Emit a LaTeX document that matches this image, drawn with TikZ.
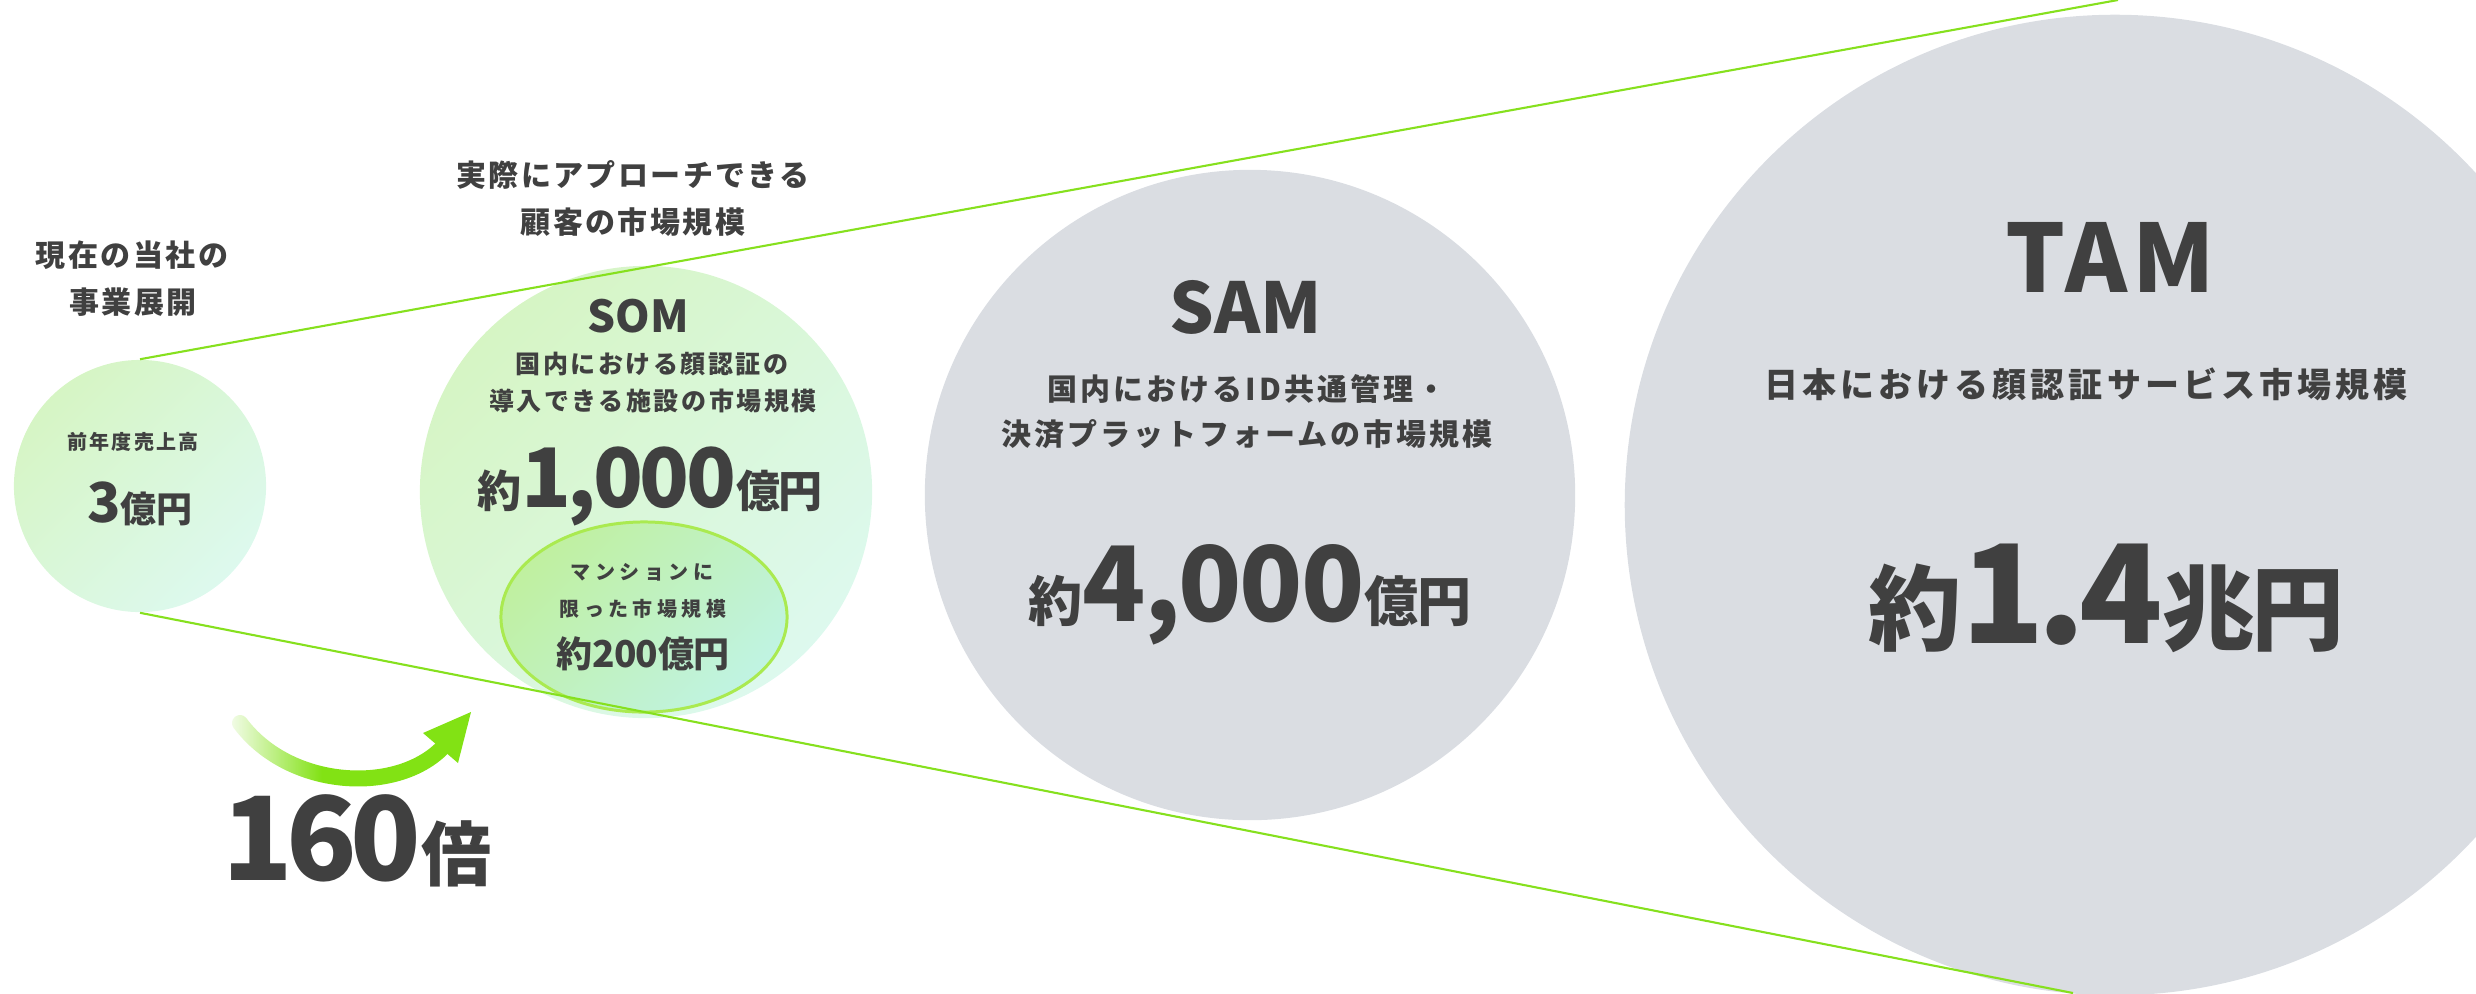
\documentclass[tikz,border=0pt]{standalone}
\usepackage{fontspec}
\setmainfont{Noto Sans CJK JP}
\usetikzlibrary{fadings,shapes.geometric}
\definecolor{tx}{RGB}{64,64,64}
\definecolor{lg}{RGB}{134,224,30}
\definecolor{ag}{RGB}{130,226,20}
\definecolor{gA}{RGB}{214,245,196}
\definecolor{gB}{RGB}{221,249,238}
\definecolor{eA}{RGB}{192,240,160}
\definecolor{eB}{RGB}{192,243,226}
\definecolor{eS}{RGB}{170,234,80}
\definecolor{gr}{RGB}{218,221,226}
\newcommand\fpx[1]{\pgfmathsetlengthmacro\tmpfs{#1*0.28453pt}\fontsize{\tmpfs}{\tmpfs}\selectfont}
\newcommand\trk[1]{\addfontfeature{LetterSpace=#1}}
\tikzfading[name=fadeR, left color=transparent!0, right color=transparent!100]
\tikzset{
  tt/.style={text=tx, inner sep=0pt, font=\bfseries},
  gcirc/.style={circle, inner sep=0pt, top color=gA, bottom color=gB, shading angle=45},
  grcirc/.style={circle, inner sep=0pt, fill=gr},
  gline/.style={draw=lg, line width=0.6pt}
}
\begin{document}
\begin{tikzpicture}[x=0.01cm,y=-0.01cm]
\useasboundingbox (0,0) rectangle (2476,993);
\clip (0,0) rectangle (2476,993);
% circles
\node[gcirc, minimum size=2.52cm] (c0) at (140,486) {};
\node[gcirc, minimum size=4.52cm] (som) at (646,492) {};
\node[ellipse, inner sep=0pt, minimum width=2.86cm, minimum height=1.9cm, draw=eS, line width=0.85pt, top color=eA, bottom color=eB, shading angle=45] (ell) at (644,617) {};
\node[grcirc, minimum size=6.5cm] (sam) at (1250,495) {};
\node[grcirc, minimum size=9.8cm] (tam) at (2115,505) {};
% cone lines
\coordinate (tE) at (2118,0);
\coordinate (bE) at (2073,993);
\draw[gline] (c0.north) -- (tE);
\draw[gline] (c0.south) -- (bE);
% arrow
\coordinate (aS) at (240,723);
\coordinate (aE) at (445,745);
\coordinate (aT) at (471,712);
\coordinate (aW1) at (423,733);
\coordinate (aW2) at (458,763);
\draw[ag, line width=4.55pt, line cap=round] (aS) .. controls (290,790) and (400,795) .. (aE);
\fill[ag] (aT) -- (aW1) -- (aW2) -- cycle;
\fill[white, path fading=fadeR, fill opacity=0.95] (226,705) rectangle (322,797);
% texts
\node[tt] (h1a) at (132,255) {\fpx{30}\trk{8}現在の当社の};
\node[tt] (h1b) at (133,302) {\fpx{30}\trk{8}事業展開};
\node[tt] (r0a) at (133,442) {\fpx{20}\trk{10}前年度売上高};
\node[tt, anchor=base] (r0b) at (140,522) {\fpx{55}3\fpx{36}億円};
\node[tt] (h2a) at (633,175) {\fpx{30}\trk{8}実際にアプローチできる};
\node[tt] (h2b) at (633,222) {\fpx{30}\trk{8}顧客の市場規模};
\node[tt, anchor=base] (somT) at (638,332) {\fpx{44}SOM};
\node[tt] (som1) at (652,364) {\fpx{25}\trk{10}国内における顔認証の};
\node[tt] (som2) at (653,401) {\fpx{25}\trk{10}導入できる施設の市場規模};
\node[tt, anchor=base] (somV) at (650,507) {\fpx{44}約\fpx{82}\trk{-4}1,000\fpx{44}億円};
\node[tt] (m1) at (642,572) {\fpx{20}\trk{22}マンションに};
\node[tt] (m2) at (643,609) {\fpx{20}\trk{22}限った市場規模};
\node[tt, anchor=base] (mV) at (643,667) {\fpx{36}約\fpx{37}\trk{-2}200\fpx{36}億円};
\node[tt, anchor=base] (samT) at (1246,333) {\fpx{70}SAM};
\node[tt] (sam1) at (1247,389) {\fpx{30}\trk{10}国内におけるID共通管理・};
\node[tt] (sam2) at (1247,434) {\fpx{30}\trk{10}決済プラットフォームの市場規模};
\node[tt, anchor=base] (samV) at (1250,621) {\fpx{54}約\fpx{104}\trk{-2}4,000\fpx{54}億円};
\node[tt, anchor=base] (tamT) at (2110,292) {\fpx{94}\trk{5}TAM};
\node[tt] (tam1) at (2086,384) {\fpx{34}\trk{12}日本における顔認証サービス市場規模};
\node[tt, anchor=base] (tamV) at (2106,643) {\fpx{93}約\fpx{137}\trk{-5}1.4\fpx{93}兆円};
\node[tt, anchor=base] (mult) at (357,880) {\fpx{116}\trk{-6}160\fpx{70}倍};
\end{tikzpicture}
\end{document}
